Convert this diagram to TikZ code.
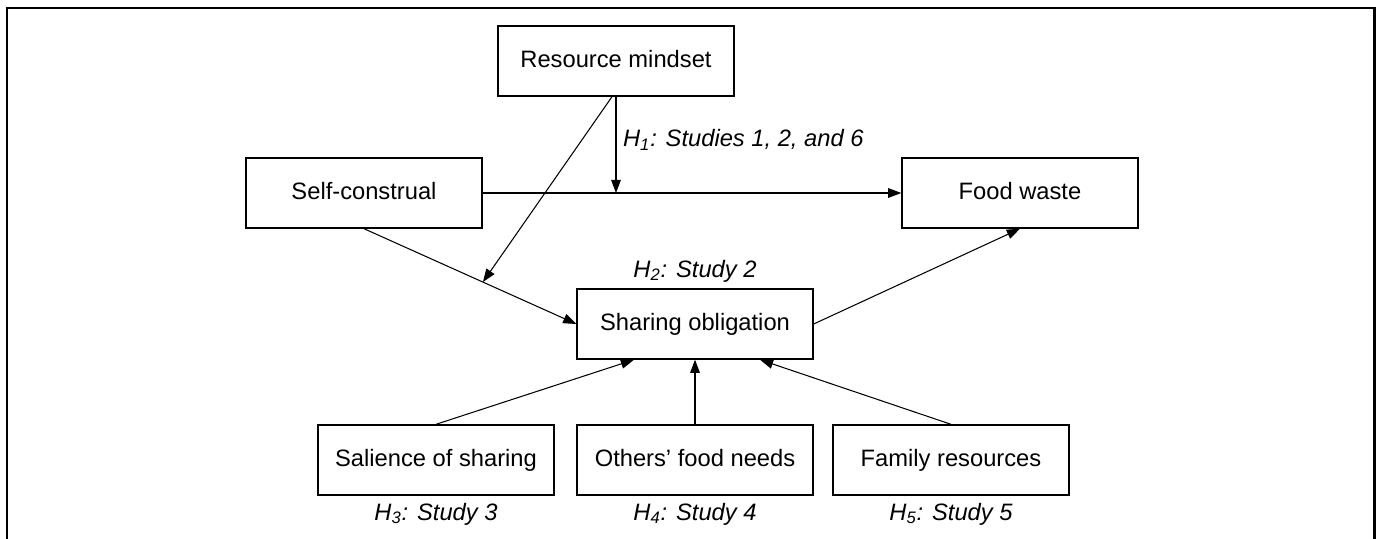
\documentclass[tikz,border=0pt]{standalone}
\usepackage{fontspec}
\setmainfont{Liberation Sans}
\usetikzlibrary{arrows.meta,positioning,calc}

\tikzset{
  caja/.style={draw, line width=0.8pt, minimum width=4.72cm, minimum height=1.4cm,
    text height=10pt, text depth=3pt, font=\fontsize{13.5}{16}\selectfont},
  hipo/.style={font=\fontsize{13.5}{16}\selectfont\itshape, inner sep=1pt},
  flecha/.style={line width=0.6pt, -{Triangle[length=7.5pt,width=5.5pt]}},
}

\begin{document}
\begin{tikzpicture}[x=0.02cm, y=-0.02cm]
\useasboundingbox (0,0) rectangle (1380,538);

% Marco
\draw[line width=1.7pt] (7,545) -- (7,8) -- (1374,8) -- (1374,545);

% Cajas principales
\node[caja] (res) at (616,61) {Resource mindset};
\node[caja] (self) at (364,193) {Self-construal};
\node[caja] (food) at (1020,193) {Food waste};
\node[caja] (share) at (695,324) {Sharing obligation};

% Cajas de abajo con su hipótesis
\foreach \x/\nombre/\texto/\h in {
    436/sal/{Salience of sharing}/3,
    695/oth/{Others' food needs}/4,
    951/fam/{Family resources}/5} {
  \node[caja] (\nombre) at (\x,460) {\texto};
  \node[hipo] (h\h) at (\x,514) {H\textsubscript{\h}: Study \h};
}

% Efecto principal y moderación
\coordinate (mod1) at (res.south |- self.east);
\draw[flecha] (self) -- (food);
\draw[flecha] (res.south) -- (mod1);
\node[hipo, anchor=west] (h1) at (621,140) {H\textsubscript{1}: Studies 1, 2, and 6};

% Mediación
\coordinate (mod2) at ($(self.south)!0.56!(share.west)$);
\draw[flecha] (self.south) -- (share.west);
\draw[flecha] ($(res.south)+(-4,0)$) -- (mod2);
\draw[flecha] (share.east) -- (food.south);
\node[hipo] (h2) at (695,271) {H\textsubscript{2}: Study 2};

% Antecedentes
\draw[flecha] (sal.north) -- ($(share.south)+(-61,0)$);
\draw[flecha] (oth) -- (share);
\draw[flecha] (fam.north) -- ($(share.south)+(65,0)$);
\end{tikzpicture}
\end{document}
